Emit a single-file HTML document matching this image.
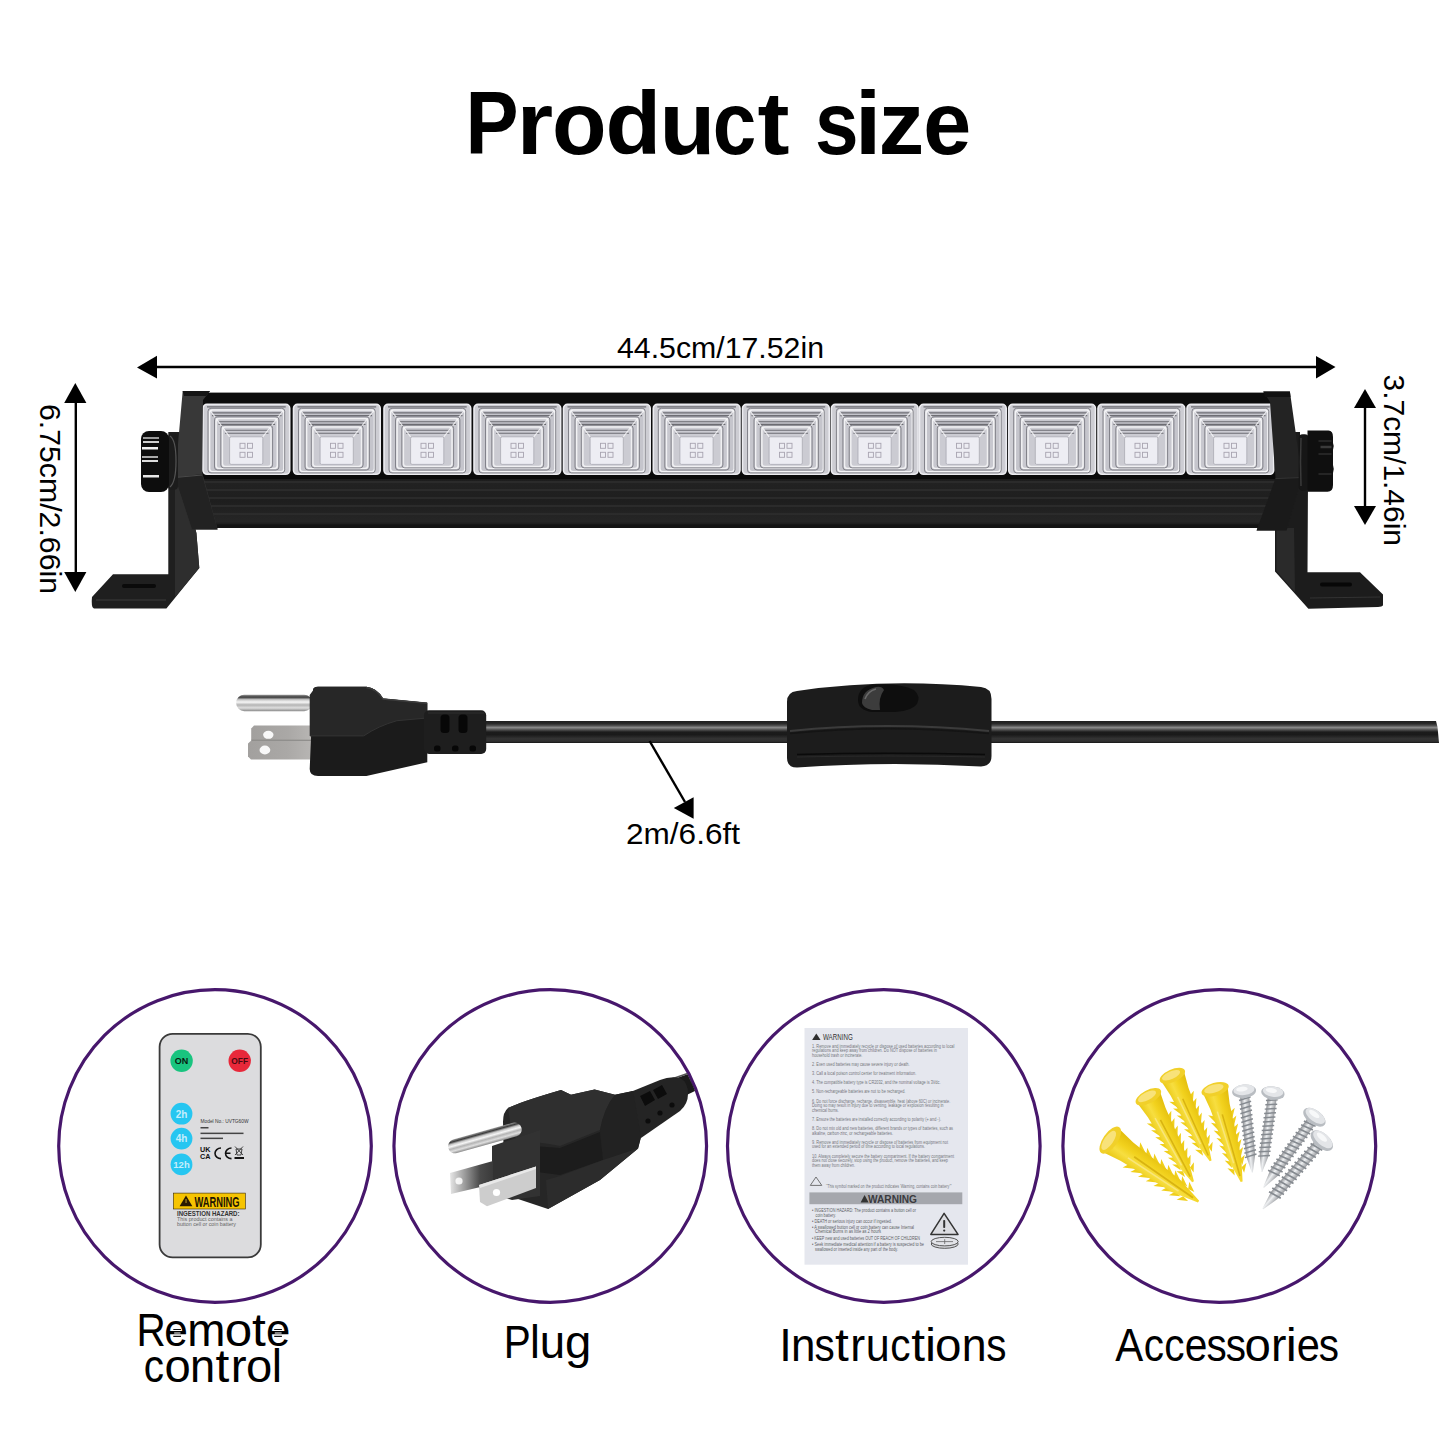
<!DOCTYPE html>
<html><head><meta charset="utf-8"><title>Product size</title>
<style>
html,body{margin:0;padding:0;background:#fff;}
body{width:1445px;height:1445px;overflow:hidden;position:relative;font-family:"Liberation Sans",sans-serif;}
svg{position:absolute;left:0;top:0;display:block;}
svg text{font-family:"Liberation Sans",sans-serif;}
</style></head><body>
<svg width="1445" height="1445" viewBox="0 0 1445 1445">
<defs>
  <linearGradient id="gMod" x1="0" y1="0" x2="0" y2="1">
    <stop offset="0" stop-color="#e2e2e4"/>
    <stop offset="0.5" stop-color="#cfcfd2"/>
    <stop offset="1" stop-color="#dadadd"/>
  </linearGradient>
  <linearGradient id="gBody" x1="0" y1="0" x2="0" y2="1">
    <stop offset="0" stop-color="#0c0c0c"/>
    <stop offset="0.15" stop-color="#222"/>
    <stop offset="0.5" stop-color="#1e1e1e"/>
    <stop offset="0.88" stop-color="#262626"/>
    <stop offset="1" stop-color="#121212"/>
  </linearGradient>
  <linearGradient id="gPin" x1="0" y1="0" x2="0" y2="1">
    <stop offset="0" stop-color="#9a9a9a"/>
    <stop offset="0.15" stop-color="#3a3a3a"/>
    <stop offset="0.3" stop-color="#c8c8c8"/>
    <stop offset="0.45" stop-color="#f6f6f6"/>
    <stop offset="0.62" stop-color="#b4b4b4"/>
    <stop offset="0.8" stop-color="#dedede"/>
    <stop offset="1" stop-color="#8a8a8a"/>
  </linearGradient>
  <linearGradient id="gBlade" x1="0" y1="0" x2="1" y2="0">
    <stop offset="0" stop-color="#a2a09e"/>
    <stop offset="0.6" stop-color="#aaa8a6"/>
    <stop offset="1" stop-color="#b8b6b4"/>
  </linearGradient>
  <linearGradient id="gCord" x1="0" y1="0" x2="0" y2="1">
    <stop offset="0" stop-color="#1e1e1e"/>
    <stop offset="0.12" stop-color="#2a2a2a"/>
    <stop offset="0.2" stop-color="#4a4a4a"/>
    <stop offset="0.3" stop-color="#8a8a8a"/>
    <stop offset="0.38" stop-color="#5a5a5a"/>
    <stop offset="0.5" stop-color="#1c1c1c"/>
    <stop offset="0.62" stop-color="#1a1a1a"/>
    <stop offset="0.8" stop-color="#333"/>
    <stop offset="0.92" stop-color="#303030"/>
    <stop offset="1" stop-color="#151515"/>
  </linearGradient>
  <linearGradient id="gPlug" x1="0" y1="0" x2="0" y2="1">
    <stop offset="0" stop-color="#262626"/>
    <stop offset="0.5" stop-color="#1e1e1e"/>
    <stop offset="1" stop-color="#121212"/>
  </linearGradient>
  <linearGradient id="gBladeA" x1="0" y1="0" x2="1" y2="0">
    <stop offset="0" stop-color="#e6e6e6"/>
    <stop offset="0.35" stop-color="#9a9a9a"/>
    <stop offset="0.7" stop-color="#4a4a4a"/>
    <stop offset="1" stop-color="#3a3a3a"/>
  </linearGradient>
  <linearGradient id="gYel" x1="0" y1="0" x2="1" y2="0">
    <stop offset="0" stop-color="#eac814"/>
    <stop offset="0.35" stop-color="#f7de40"/>
    <stop offset="0.6" stop-color="#f2d21e"/>
    <stop offset="1" stop-color="#e2bc0c"/>
  </linearGradient>
  <linearGradient id="gScrew" x1="0" y1="0" x2="1" y2="0">
    <stop offset="0" stop-color="#8e9094"/>
    <stop offset="0.45" stop-color="#eef0f2"/>
    <stop offset="1" stop-color="#9a9ca0"/>
  </linearGradient>

  <clipPath id="clipC2"><circle cx="550.25" cy="1146" r="155"/></clipPath>
  <!-- LED module, local 0..86.7 x 0..70 -->
  <g id="mod">
    <rect x="0" y="0" width="86.7" height="70" rx="4" fill="#cdcdd3" stroke="#ececf0" stroke-width="1.6"/>
    <g stroke="#6a6a70" stroke-width="1.1" fill="none">
      <path d="M4 2.6 H82.7"/>
    </g>
    <rect x="6.6" y="5.6" width="74.3" height="61.8" rx="3" fill="#c5c5cc" stroke="#f4f4f6" stroke-width="1.5"/>
    <path d="M9 8.6 H78.5 M9 11.3 H78.5" stroke="#6e6e74" stroke-width="1.1"/>
    <rect x="13.1" y="14.1" width="61.2" height="50" rx="3" fill="#c8c8cf" stroke="#f2f2f4" stroke-width="1.5"/>
    <path d="M15.5 17.4 H72 M15.5 20.1 H72" stroke="#6a6a70" stroke-width="1.1"/>
    <rect x="19.4" y="22.7" width="48.6" height="39.4" rx="3" fill="#cbcbd2" stroke="#f0f0f2" stroke-width="1.5"/>
    <path d="M22 26 H65.5 M22 29 H65.5" stroke="#6e6e74" stroke-width="1.1"/>
    <path d="M7.5 6.5 L26.6 32.5 M80 6.5 L59.8 32.5" stroke="#f8f8fa" stroke-width="1.2" opacity="0.8"/>
    <g stroke="#7a7a82" stroke-width="0.9" fill="none">
      <rect x="5" y="4" width="76.7" height="64.6" rx="3"/>
      <rect x="11.5" y="12.5" width="64.4" height="53.2" rx="3"/>
      <rect x="17.8" y="21" width="51.8" height="42.6" rx="3"/>
    </g>
    <rect x="26.6" y="32.5" width="33.2" height="27.6" rx="1.5" fill="#ededf3" stroke="#a9a9b2" stroke-width="0.8"/>
    <g fill="none" stroke="#a7a3b0" stroke-width="0.9">
      <rect x="37" y="39" width="5" height="5"/><rect x="44.5" y="39" width="5" height="5"/>
      <rect x="37" y="48" width="5" height="5"/><rect x="44.5" y="48" width="5" height="5"/>
    </g>
  </g>

  <g id="anchor">
    <path d="M-7.8 30 L-13.8 27 L-8.8 36 Z M7.8 30 L13.8 27 L8.8 36 Z M-7.2 38 L-13.2 35 L-8.2 44 Z M7.2 38 L13.2 35 L8.2 44 Z M-6.7 46 L-12.7 43 L-7.7 52 Z M6.7 46 L12.7 43 L7.7 52 Z M-6.1 54 L-12.1 51 L-7.1 60 Z M6.1 54 L12.1 51 L7.1 60 Z M-5.6 62 L-11.6 59 L-6.6 68 Z M5.6 62 L11.6 59 L6.6 68 Z M-5.0 70 L-11.0 67 L-6.0 76 Z M5.0 70 L11.0 67 L6.0 76 Z M-4.4 78 L-10.4 75 L-5.4 84 Z M4.4 78 L10.4 75 L5.4 84 Z M-3.9 86 L-9.9 83 L-4.9 92 Z M3.9 86 L9.9 83 L4.9 92 Z" fill="#f0cf1c"/>
    <path d="M-12.5 6 Q0 1 12.5 6 L10 22 L6.5 76 L1 100 L-1 100 L-6.5 76 L-10 22 Z" fill="url(#gYel)"/>
    <ellipse cx="0" cy="4" rx="14" ry="6.5" fill="#f1d02a"/>
    <ellipse cx="-1" cy="3" rx="10" ry="4" fill="#f8e27a"/>
    <path d="M0 30 L0 94" stroke="#d9b410" stroke-width="1.6"/>
    <path d="M-4 26 L-2.5 80" stroke="#fae98a" stroke-width="1.5" opacity="0.8"/>
  </g>
  <g id="screw">
    <path d="M-4.8 4 L4.8 4 L4.8 68 L0.5 86 L-0.5 86 L-4.8 68 Z" fill="url(#gScrew)"/>
    <path d="M-6.2 10.0 L6.2 7.5 M-6.2 14.6 L6.2 12.1 M-6.2 19.2 L6.2 16.7 M-6.2 23.8 L6.2 21.3 M-6.2 28.4 L6.2 25.9 M-6.2 33.0 L6.2 30.5 M-6.2 37.6 L6.2 35.1 M-6.2 42.2 L6.2 39.7 M-6.2 46.8 L6.2 44.3 M-6.2 51.4 L6.2 48.9 M-6.2 56.0 L6.2 53.5 M-6.2 60.6 L6.2 58.1 M-6.2 65.2 L6.2 62.7 M-6.2 69.8 L6.2 67.3" stroke="#858a90" stroke-width="1.6"/>
    <ellipse cx="0" cy="1" rx="12.5" ry="7" fill="#b9bdc2"/>
    <ellipse cx="0" cy="-0.5" rx="11" ry="5.5" fill="#e3e5e8"/>
    <ellipse cx="-2" cy="-1.5" rx="6" ry="2.5" fill="#f7f8f9"/>
  </g>

  <!-- knob: local center 0,0 -->
  <g id="knob">
    <rect x="-14" y="-30" width="28" height="61" rx="8" fill="#0d0d0d"/>
    <rect x="-12" y="-24" width="16" height="2" fill="#9a9a9a"/>
    <rect x="-12" y="-20" width="16" height="2" fill="#cfcfcf"/>
    <rect x="-13" y="-14" width="16" height="2.5" fill="#f2f2f2"/>
    <rect x="-13" y="-5" width="16" height="2" fill="#aaa"/>
    <rect x="-13" y="-1" width="16" height="2" fill="#ddd"/>
    <rect x="-12" y="14" width="16" height="2.5" fill="#e8e8e8"/>
  </g>

  <!-- plug (horizontal, as drawn at top) -->
  <g id="plug">
    <rect x="236.2" y="694.7" width="76" height="16.5" rx="8" fill="url(#gPin)"/>
    <path d="M254 725.5 L313 725.5 L313 740 L251.2 740 L251.2 728.5 Z" fill="url(#gBlade)"/>
    <path d="M251 740.7 L313 740.7 L313 759.4 L251 759.4 L248 756.5 L248 743.5 Z" fill="url(#gBlade)"/>
    <path d="M251.2 740.3 L313 740.3" stroke="#7a7876" stroke-width="1"/>
    <ellipse cx="268.3" cy="734.8" rx="5.2" ry="4" fill="#f8f8f8"/>
    <ellipse cx="264.9" cy="750" rx="5.4" ry="4.4" fill="#f8f8f8"/>
    <path d="M313 690.5 Q313 686.8 318 686.8 L366.4 686.8 Q377 688 383 698.5 L427.3 702.7 L427.3 762.2 L366.4 776 L318 776 Q309.7 776 309.7 769 Z" fill="#1b1b1b"/>
    <path d="M313 690.5 Q313 686.8 318 686.8 L366.4 686.8 Q377 688 383 698.5 L427.3 702.7 L427.3 717.9 L396.9 720.7 Q378 726 363.7 735.9 L309.7 735.9 L309.7 695 Z" fill="#272727"/>
    <path d="M366.4 687.5 Q377 689 383 699 L427 703.2" stroke="#3c3c3c" stroke-width="1.4" fill="none"/>
    <path d="M310 735.9 L363.7 735.9 Q378 726 396.9 720.7 L427 718" stroke="#333" stroke-width="1" fill="none"/>
    <rect x="424" y="710.3" width="62.2" height="43.6" rx="5" fill="#1e1e1e"/>
    <path d="M428 713 L484 713" stroke="#2e2e2e" stroke-width="1.2"/>
    <rect x="440.5" y="714.4" width="9" height="18.7" rx="3.5" fill="#070707"/>
    <rect x="458.5" y="714.4" width="9" height="18.7" rx="3.5" fill="#070707"/>
    <rect x="434" y="745.5" width="6.5" height="6" rx="2.5" fill="#070707"/>
    <rect x="452" y="745.5" width="6.5" height="6" rx="2.5" fill="#070707"/>
    <rect x="469.5" y="745.5" width="6.5" height="6" rx="2.5" fill="#070707"/>
  </g>
</defs>

<!-- ===== Title ===== -->
<g>
<text x="465.48" y="154.20" font-size="89" font-weight="bold" fill="#000" textLength="53.04" lengthAdjust="spacingAndGlyphs">P</text>
<text x="516.84" y="154.20" font-size="89" font-weight="bold" fill="#000" textLength="36.38" lengthAdjust="spacingAndGlyphs">r</text>
<text x="551.91" y="154.20" font-size="89" font-weight="bold" fill="#000" textLength="54.58" lengthAdjust="spacingAndGlyphs">o</text>
<text x="605.56" y="154.20" font-size="89" font-weight="bold" fill="#000" textLength="55.64" lengthAdjust="spacingAndGlyphs">d</text>
<text x="659.44" y="154.20" font-size="89" font-weight="bold" fill="#000" textLength="55.78" lengthAdjust="spacingAndGlyphs">u</text>
<text x="712.74" y="154.20" font-size="89" font-weight="bold" fill="#000" textLength="43.56" lengthAdjust="spacingAndGlyphs">c</text>
<text x="757.60" y="154.20" font-size="89" font-weight="bold" fill="#000" textLength="32.01" lengthAdjust="spacingAndGlyphs">t</text>
<text x="815.05" y="154.20" font-size="89" font-weight="bold" fill="#000" textLength="43.56" lengthAdjust="spacingAndGlyphs">s</text>
<text x="854.79" y="154.20" font-size="89" font-weight="bold" fill="#000" textLength="26.71" lengthAdjust="spacingAndGlyphs">i</text>
<text x="878.43" y="154.20" font-size="89" font-weight="bold" fill="#000" textLength="45.77" lengthAdjust="spacingAndGlyphs">z</text>
<text x="923.33" y="154.20" font-size="89" font-weight="bold" fill="#000" textLength="48.02" lengthAdjust="spacingAndGlyphs">e</text>
</g>

<!-- ===== Horizontal dimension ===== -->
<line x1="150" y1="367" x2="1322" y2="367" stroke="#000" stroke-width="2.4"/>
<polygon points="137,367.4 157,355.8 157,378.6" fill="#000"/>
<polygon points="1335.5,367 1316,356 1316,378.5" fill="#000"/>
<text x="617" y="358" font-size="30" fill="#000" textLength="207" lengthAdjust="spacingAndGlyphs">44.5cm/17.52in</text>

<!-- Left vertical dimension -->
<line x1="75.8" y1="395" x2="75.8" y2="580" stroke="#000" stroke-width="2.4"/>
<polygon points="75.3,383 64.2,403 86.4,403" fill="#000"/>
<polygon points="75.3,592 64.2,572 86.4,572" fill="#000"/>
<text transform="translate(40.3,404) rotate(90)" x="0" y="0" font-size="30" fill="#000" textLength="190" lengthAdjust="spacingAndGlyphs">6.75cm/2.66in</text>

<!-- Right vertical dimension -->
<line x1="1365" y1="400" x2="1365" y2="515" stroke="#000" stroke-width="2.4"/>
<polygon points="1365,389 1354,408 1376,408" fill="#000"/>
<polygon points="1365,525 1354,506 1376,506" fill="#000"/>
<text transform="translate(1384.3,374.5) rotate(90)" x="0" y="0" font-size="30" fill="#000" textLength="171.5" lengthAdjust="spacingAndGlyphs">3.7cm/1.46in</text>

<!-- ===== Light bar ===== -->
<!-- left bracket -->
<path d="M168.3 432 L182 432 L182 478 L196.4 533 L199.3 568 L166.4 608.5 L94 608.5 Q91 608 92 597 L113 574.3 L168.3 574.3 Z" fill="#1f1f1f"/>
<path d="M182 478 L196.4 533 L199.3 568 L175 597 L175 478 Z" fill="#2e2e2e"/>
<path d="M96 600 L166 600" stroke="#3d3d3d" stroke-width="1.2"/>
<rect x="122" y="584" width="34" height="4" rx="2" fill="#0a0a0a"/>
<!-- right bracket -->
<path d="M1276 432 L1300 432 L1300 470 L1308 478 L1307.5 572.3 L1360 572.3 L1383 594.6 L1383 605.3 Q1382 607 1378 607 L1308.4 608.7 L1275 571.4 L1275 478 Z" fill="#1c1c1c"/>
<path d="M1276.5 528 L1294 528 L1295 592 L1276.5 571 Z" fill="#2a2a2a"/>
<path d="M1310 598 L1380 597" stroke="#333" stroke-width="1.2"/>
<rect x="1320" y="582.5" width="32" height="4" rx="2" fill="#070707"/>

<!-- body -->
<rect x="200" y="392.6" width="1082" height="83.4" fill="#0c0c0c"/>
<rect x="195" y="474" width="1090" height="54" fill="url(#gBody)"/>
<g stroke="#2f2f2f" stroke-width="1.4">
  <line x1="200" y1="482" x2="1280" y2="482"/>
  <line x1="200" y1="490" x2="1280" y2="490"/>
  <line x1="200" y1="498" x2="1280" y2="498"/>
  <line x1="200" y1="506" x2="1280" y2="506"/>
  <line x1="200" y1="514" x2="1280" y2="514"/>
</g>
<rect x="195" y="474" width="1090" height="5" fill="#0a0a0a"/>
<rect x="195" y="524.5" width="1090" height="3" fill="#141414"/>

<!-- modules -->
<use href="#mod" x="203" y="404.3"/>
<use href="#mod" x="293.5" y="404.3"/>
<use href="#mod" x="384" y="404.3"/>
<use href="#mod" x="474" y="404.3"/>
<use href="#mod" x="563.5" y="404.3"/>
<use href="#mod" x="653.3" y="404.3"/>
<use href="#mod" x="742.5" y="404.3"/>
<use href="#mod" x="831.4" y="404.3"/>
<use href="#mod" x="919.5" y="404.3"/>
<use href="#mod" x="1008.7" y="404.3"/>
<use href="#mod" x="1098" y="404.3"/>
<use href="#mod" x="1187" y="404.3"/>

<!-- left end cap -->
<path d="M182.7 391.1 L210 391.1 L203 400 L202 472 L217.6 529.5 L192 529.5 L175 478 Z" fill="#383838"/>
<path d="M182.7 391.1 L210 391.1 L206 396 L184 396 Z" fill="#151515"/>
<path d="M175 477.5 L202 474 L217.6 529.5 L192 529.5 Z" fill="#222"/>
<path d="M175 477.5 L202 475" stroke="#4a4a4a" stroke-width="1.2"/>
<!-- right end cap -->
<path d="M1263.3 391.6 L1289.9 391.6 L1302 477.5 L1286.5 530.6 L1256.6 530.6 L1275.5 478.6 L1270 402 Z" fill="#232323"/>
<path d="M1263.3 391.6 L1289.9 391.6 L1290.5 397 L1265 397 Z" fill="#111"/>
<path d="M1275.5 478.6 L1302 477.5 L1286.5 530.6 L1256.6 530.6 Z" fill="#1a1a1a"/>
<path d="M1275.5 478.6 L1302 477.5" stroke="#333" stroke-width="1"/>

<!-- knobs -->
<rect x="168" y="433.7" width="10" height="56" rx="4" fill="#1c1c1c"/>
<path d="M170 436 Q176 440 176 461 Q176 482 170 487" stroke="#555" stroke-width="1.2" fill="none"/>
<use href="#knob" x="155" y="461"/>
<rect x="1298.7" y="434.3" width="10" height="56.4" rx="4" fill="#161616"/>
<path d="M1301 438 Q1300 461 1301 486" stroke="#3a3a3a" stroke-width="1.5" fill="none"/>
<g transform="translate(1320.5,461)">
  <path d="M-13 -30.5 L8 -30.5 Q12.5 -30.5 12.5 -24 L12.5 -18 Q14 -15 12.5 -11 L12.5 4 Q14 8 12.5 12 L12.5 24 Q12.5 30.8 7 30.8 L-13 30.8 Z" fill="#0f0f0f"/>
  <path d="M-2 -20 L11 -20 M-2 -7 L11 -7 M-2 13 L11 13" stroke="#2e2e2e" stroke-width="1.6"/>
  <path d="M0 -14 L11 -14" stroke="#3a3a3a" stroke-width="2.5"/>
</g>

<!-- ===== Cord + plug ===== -->
<path d="M480 721 L1436 721 L1437.5 727 L1439 743 L480 743 Z" fill="url(#gCord)"/>
<use href="#plug"/>
<!-- switch -->
<path d="M787 702 Q787 692 797 691 Q886 678 981 687 Q991.5 688 991.5 699 L991.5 756 Q991.5 766 981 766.5 Q886 761 797 767.5 Q787 767.5 787 758 Z" fill="#1c1c1c"/>
<path d="M790 731 Q886 721 989 731" stroke="#3b3b3b" stroke-width="2.2" fill="none"/>
<path d="M790 733.5 Q886 724 989 733.5" stroke="#141414" stroke-width="1.5" fill="none"/>
<path d="M797 754.5 Q886 752 985 754.5" stroke="#0a0a0a" stroke-width="1.6" fill="none"/>
<path d="M797 757 Q886 755 985 757" stroke="#2a2a2a" stroke-width="1.2" fill="none"/>
<path d="M858 700 Q858 686 874 684.5 Q900 683 914 690 Q921 696 917 704 Q910 712 890 712 L872 712 Q858 710 858 700 Z" fill="#0e0e0e"/>
<path d="M862 703 Q862 690 876 687 Q882 686 884 690 Q878 698 880 710 L872 710 Q863 708 862 703 Z" fill="#3c3c3c"/>
<path d="M865 699 Q868 691 876 689" stroke="#6a6a6a" stroke-width="1.6" fill="none"/>

<!-- cable length arrow -->
<line x1="649.6" y1="741" x2="685" y2="802" stroke="#000" stroke-width="2.4"/>
<polygon points="673.8,808 693.6,797.3 693.6,818.7" fill="#000"/>
<text x="626" y="844" font-size="30" fill="#000" textLength="114" lengthAdjust="spacingAndGlyphs">2m/6.6ft</text>

<!-- ===== Circles ===== -->
<g fill="none" stroke="#47176c" stroke-width="3.2">
  <circle cx="215" cy="1146" r="156.3"/>
  <circle cx="550.25" cy="1146" r="156.3"/>
  <circle cx="883.8" cy="1146" r="156.3"/>
  <circle cx="1219.3" cy="1146" r="156.4"/>
</g>

<!-- Remote -->
<g>
  <rect x="159.6" y="1033.8" width="101.2" height="223.6" rx="13" fill="#dcdcde" stroke="#3a3a3a" stroke-width="1.8"/>
  <circle cx="181.6" cy="1060.8" r="11.2" fill="#19c47f"/>
  <text x="181.6" y="1064.2" font-size="9" font-weight="bold" fill="#0a1a10" text-anchor="middle">ON</text>
  <circle cx="239.7" cy="1060.8" r="11.2" fill="#e8283a"/>
  <text x="239.7" y="1064.2" font-size="8.4" font-weight="bold" fill="#4a0a10" text-anchor="middle">OFF</text>
  <circle cx="181.5" cy="1113.7" r="10.9" fill="#26c6f1"/>
  <circle cx="181.5" cy="1138.6" r="10.9" fill="#26c6f1"/>
  <circle cx="181.5" cy="1164.4" r="10.9" fill="#26c6f1"/>
  <text x="181.5" y="1117.5" font-size="10" font-weight="bold" fill="#c4eefc" text-anchor="middle">2h</text>
  <text x="181.5" y="1142.4" font-size="10" font-weight="bold" fill="#c4eefc" text-anchor="middle">4h</text>
  <text x="181.5" y="1168.2" font-size="9.5" font-weight="bold" fill="#c4eefc" text-anchor="middle">12h</text>
  <text x="200.5" y="1123.3" font-size="4.8" fill="#333" textLength="48" lengthAdjust="spacingAndGlyphs">Model No.: UVTG60W</text>
  <rect x="200.5" y="1127" width="8" height="1.5" fill="#444"/>
  <rect x="200.5" y="1132.6" width="43" height="1.5" fill="#444"/>
  <rect x="200.5" y="1137.6" width="22.5" height="1.5" fill="#444"/>
  <text x="200" y="1152.3" font-size="7" font-weight="bold" fill="#111" textLength="10.5" lengthAdjust="spacingAndGlyphs">UK</text>
  <text x="200" y="1158.8" font-size="7" font-weight="bold" fill="#111" textLength="10.5" lengthAdjust="spacingAndGlyphs">CA</text>
  <path d="M221 1148 A6 5.3 0 1 0 221 1158.6" stroke="#111" stroke-width="1.6" fill="none"/>
  <path d="M231.5 1148 A6 5.3 0 1 0 231.5 1158.6 M226 1153.3 L230.5 1153.3" stroke="#111" stroke-width="1.6" fill="none"/>
  <path d="M235 1146.5 L243 1155 M243 1146.5 L235 1155 M236 1149 L242 1149 L241 1155 L237 1155 Z" stroke="#333" stroke-width="0.9" fill="none"/>
  <rect x="234.5" y="1157" width="9.5" height="2" fill="#111"/>
  <rect x="173.4" y="1193.1" width="71.9" height="15.9" fill="#f6c400" stroke="#3a2a00" stroke-width="0.6"/>
  <polygon points="179.6,1206.2 186,1195.6 192.4,1206.2" fill="#2a1a00"/>
  <rect x="185.4" y="1199" width="1.3" height="4" fill="#a08020"/>
  <text x="194.5" y="1206.5" font-size="15" font-weight="bold" fill="#1e1400" textLength="45" lengthAdjust="spacingAndGlyphs">WARNING</text>
  <text x="177" y="1216.1" font-size="7.7" font-weight="bold" fill="#333" textLength="62.5" lengthAdjust="spacingAndGlyphs">INGESTION HAZARD:</text>
  <text x="177" y="1221.3" font-size="5.3" fill="#666" textLength="55.5" lengthAdjust="spacingAndGlyphs">This product contains a</text>
  <text x="177" y="1225.8" font-size="5.3" fill="#666" textLength="59" lengthAdjust="spacingAndGlyphs">button cell or coin battery</text>
</g>

<!-- Plug in circle -->
<g clip-path="url(#clipC2)">
  <!-- cord -->
  <path d="M655 1086 L688 1074 Q694 1076 697 1090 L668 1104 Z" fill="#1a1a1a"/>
  <path d="M660 1083 L689 1073" stroke="#555" stroke-width="1.5"/>
  <!-- strain relief -->
  <path d="M628 1093 L660 1080 Q670 1076 680 1078 Q688 1082 688 1094 Q688 1104 680 1111 L641 1138 L628 1122 Z" fill="#242424"/>
  <path d="M640 1096 L650 1091 L655 1100 L645 1106 Z M653 1090 L662 1085 L667 1094 L658 1099 Z" fill="#0c0c0c"/>
  <circle cx="648" cy="1121" r="2.6" fill="#0c0c0c"/>
  <circle cx="660" cy="1113" r="2.6" fill="#0c0c0c"/>
  <circle cx="672" cy="1105" r="2.6" fill="#0c0c0c"/>
  <!-- body -->
  <path d="M508 1108 Q520 1102 561 1090 L571 1094.7 L594.6 1089.6 L615 1094.7 L633 1091 L641 1137 L638.2 1148.5 L600 1180 L548 1209 L518 1199 Q505 1190 504 1176 L503 1122 Q503 1112 508 1108 Z" fill="#262626"/>
  <path d="M508 1108 Q520 1102 561 1090 L571 1094.7 L594.6 1089.6 L615 1094.7 Q604 1108 600 1130 L560 1146 Q530 1140 520 1142 L512 1134 Z" fill="#2f2f2f"/>
  <path d="M600 1130 Q604 1108 615 1094.7 L633 1091 L641 1137 L638 1148 L603 1162 Z" fill="#222"/>
  <path d="M520 1145 L560 1148 L600 1132 L603 1160 L560 1175 L522 1170 Z" fill="#1c1c1c"/>
  <path d="M548 1209 L600 1180 L638 1148.5 L603 1160 L560 1176 L546 1180 Z" fill="#2c2c2c"/>
  <!-- front face -->
  <path d="M492 1146 L540 1130 L540 1196 L512 1200 L492 1194 Z" fill="#323232"/>
  <!-- blade A (back) -->
  <path d="M450 1173 L493 1161 L493 1184 L451 1194 Z" fill="url(#gBladeA)"/>
  <!-- blade B (front) -->
  <path d="M479 1185 L536 1166.5 L536 1188 L487 1206.3 L480 1202 Z" fill="#cdcdcd"/>
  <path d="M479 1185 L536 1166.5 L536 1169 L480 1188 Z" fill="#e8e8e8"/>
  <circle cx="496.5" cy="1192.5" r="3.6" fill="#fff"/>
  <circle cx="459" cy="1181" r="3.6" fill="#fff" opacity="0.85"/>
  <!-- ground pin -->
  <g transform="translate(448.3,1148.2) rotate(-15.7)">
    <rect x="0" y="-7" width="76" height="14" rx="7" fill="url(#gPin)"/>
  </g>
</g>

<!-- Instructions sheet -->
<g>
  <rect x="804.5" y="1028" width="163.5" height="236.7" fill="#e5e7ee"/>
  <polygon points="812.1,1040.1 816.3,1033.5 820.6,1040.1" fill="#2e2e2e"/>
  <text x="823" y="1040.1" font-size="8.6" fill="#333" textLength="29.7" lengthAdjust="spacingAndGlyphs">WARNING</text>
  <g font-size="4.5" fill="#74767c">
    <text x="812" y="1047.8" textLength="142.4" lengthAdjust="spacingAndGlyphs">1. Remove and immediately recycle or dispose of used batteries according to local</text>
    <text x="812" y="1052.3" textLength="124.9" lengthAdjust="spacingAndGlyphs">regulations and keep away from children. Do NOT dispose of batteries in</text>
    <text x="812" y="1056.6" textLength="50.4" lengthAdjust="spacingAndGlyphs">household trash or incinerate.</text>
    <text x="812" y="1066.0" textLength="97.6" lengthAdjust="spacingAndGlyphs">2. Even used batteries may cause severe injury or death.</text>
    <text x="812" y="1075.0" textLength="104.3" lengthAdjust="spacingAndGlyphs">3. Call a local poison control center for treatment information.</text>
    <text x="812" y="1084.1" textLength="128.5" lengthAdjust="spacingAndGlyphs">4. The compatible battery type is CR2032, and the nominal voltage is 3Vdc.</text>
    <text x="812" y="1093.2" textLength="93.4" lengthAdjust="spacingAndGlyphs">5. Non-rechargeable batteries are not to be recharged.</text>
    <text x="812" y="1102.6" textLength="138.2" lengthAdjust="spacingAndGlyphs">6. Do not force discharge, recharge, disassemble, heat (above 60C) or incinerate.</text>
    <text x="812" y="1107.1" textLength="131.5" lengthAdjust="spacingAndGlyphs">Doing so may result in injury due to venting, leakage or explosion resulting in</text>
    <text x="812" y="1111.6" textLength="26.8" lengthAdjust="spacingAndGlyphs">chemical burns.</text>
    <text x="812" y="1120.8" textLength="129.0" lengthAdjust="spacingAndGlyphs">7. Ensure the batteries are installed correctly according to polarity (+ and -).</text>
    <text x="812" y="1130.3" textLength="141.0" lengthAdjust="spacingAndGlyphs">8. Do not mix old and new batteries, different brands or types of batteries, such as</text>
    <text x="812" y="1134.6" textLength="81.0" lengthAdjust="spacingAndGlyphs">alkaline, carbon-zinc, or rechargeable batteries.</text>
    <text x="812" y="1143.9" textLength="136.0" lengthAdjust="spacingAndGlyphs">9. Remove and immediately recycle or dispose of batteries from equipment not</text>
    <text x="812" y="1148.2" textLength="113.0" lengthAdjust="spacingAndGlyphs">used for an extended period of time according to local regulations.</text>
    <text x="812" y="1157.7" textLength="142.0" lengthAdjust="spacingAndGlyphs">10. Always completely secure the battery compartment. If the battery compartment</text>
    <text x="812" y="1162.1" textLength="136.0" lengthAdjust="spacingAndGlyphs">does not close securely, stop using the product, remove the batteries, and keep</text>
    <text x="812" y="1166.6" textLength="43.0" lengthAdjust="spacingAndGlyphs">them away from children.</text>
    <text x="826" y="1187.6" textLength="125.4" lengthAdjust="spacingAndGlyphs">“This symbol marked on the product indicates ‘Warning, contains coin battery’”</text>
  </g>
  <polygon points="816,1185.4 810.3,1185.4 816,1177 821.8,1185.4 816,1185.4" fill="none" stroke="#555" stroke-width="0.8"/>
  <rect x="809.4" y="1192.4" width="152.9" height="11.8" fill="#a5a7ad"/>
  <polygon points="860.6,1202.5 864.6,1195 868.6,1202.5" fill="#333"/>
  <text x="868" y="1202.5" font-size="10.5" font-weight="bold" fill="#3a3a3e" textLength="49" lengthAdjust="spacingAndGlyphs">WARNING</text>
  <g font-size="4.9" fill="#5c5e64">
    <text x="812" y="1211.9" textLength="104.0" lengthAdjust="spacingAndGlyphs">• INGESTION HAZARD: The product contains a button cell or</text>
    <text x="815.5" y="1216.6" textLength="20.5" lengthAdjust="spacingAndGlyphs">coin battery.</text>
    <text x="812" y="1222.8" textLength="80.0" lengthAdjust="spacingAndGlyphs">• DEATH or serious injury can occur if ingested.</text>
    <text x="812" y="1228.9" textLength="102.0" lengthAdjust="spacingAndGlyphs">• A swallowed button cell or coin battery can cause Internal</text>
    <text x="815" y="1233.3" textLength="66.0" lengthAdjust="spacingAndGlyphs">Chemical Burns in as little as 2 hours</text>
    <text x="812" y="1239.8" textLength="108.0" lengthAdjust="spacingAndGlyphs">• KEEP new and used batteries OUT OF REACH OF CHILDREN</text>
    <text x="812" y="1245.8" textLength="112.0" lengthAdjust="spacingAndGlyphs">• Seek immediate medical attention if a battery is suspected to be</text>
    <text x="815" y="1251.3" textLength="83.0" lengthAdjust="spacingAndGlyphs">swallowed or inserted inside any part of the body.</text>
  </g>
  <polygon points="944.1,1213.3 930.8,1234.4 958,1234.4" fill="#dcdde2" stroke="#333" stroke-width="1.5" stroke-linejoin="round"/>
  <rect x="943.2" y="1220" width="2" height="8" rx="0.8" fill="#333"/>
  <circle cx="944.2" cy="1230.6" r="1.1" fill="#333"/>
  <ellipse cx="944.7" cy="1244" rx="13.5" ry="4.3" fill="#d8d9de" stroke="#555" stroke-width="1"/>
  <ellipse cx="944.7" cy="1241.6" rx="13.5" ry="4.3" fill="#e2e3e8" stroke="#555" stroke-width="1"/>
  <path d="M936 1241.6 L953 1241.6 M944.7 1239.2 L944.7 1244" stroke="#666" stroke-width="0.8"/>
</g>

<!-- Accessories: anchors and screws -->
<use href="#anchor" transform="translate(1106.6,1137.5) rotate(-55.1) scale(1.121)"/>
<use href="#anchor" transform="translate(1146.5,1093.2) rotate(-27.7) scale(1.001)"/>
<use href="#anchor" transform="translate(1170.8,1072.2) rotate(-24.2) scale(0.972)"/>
<use href="#anchor" transform="translate(1214.0,1085.5) rotate(-16.0) scale(1.002)"/>
<use href="#screw" transform="translate(1244.0,1090.3) rotate(-5.8) scale(0.961)"/>
<use href="#screw" transform="translate(1273.0,1092.1) rotate(8.0) scale(0.938)"/>
<use href="#screw" transform="translate(1315.0,1116.4) rotate(35.9) scale(1.020)"/>
<use href="#screw" transform="translate(1322.5,1139.8) rotate(40.8) scale(1.063)"/>

<!-- ===== Labels ===== -->
<g>
<text x="136.51" y="1345.60" font-size="46" fill="#000" textLength="29.23" lengthAdjust="spacingAndGlyphs">R</text>
<text x="164.20" y="1345.60" font-size="46" fill="#000" textLength="23.59" lengthAdjust="spacingAndGlyphs">e</text>
<text x="187.36" y="1345.60" font-size="46" fill="#000" textLength="38.16" lengthAdjust="spacingAndGlyphs">m</text>
<text x="224.83" y="1345.60" font-size="46" fill="#000" textLength="27.44" lengthAdjust="spacingAndGlyphs">o</text>
<text x="251.95" y="1345.60" font-size="46" fill="#000" textLength="13.80" lengthAdjust="spacingAndGlyphs">t</text>
<text x="266.04" y="1345.60" font-size="46" fill="#000" textLength="24.30" lengthAdjust="spacingAndGlyphs">e</text>
<text x="143.80" y="1381.50" font-size="46" fill="#000" textLength="20.24" lengthAdjust="spacingAndGlyphs">c</text>
<text x="164.52" y="1381.50" font-size="46" fill="#000" textLength="26.27" lengthAdjust="spacingAndGlyphs">o</text>
<text x="189.90" y="1381.50" font-size="46" fill="#000" textLength="25.14" lengthAdjust="spacingAndGlyphs">n</text>
<text x="215.45" y="1381.50" font-size="46" fill="#000" textLength="13.80" lengthAdjust="spacingAndGlyphs">t</text>
<text x="230.84" y="1381.50" font-size="46" fill="#000" textLength="15.85" lengthAdjust="spacingAndGlyphs">r</text>
<text x="246.02" y="1381.50" font-size="46" fill="#000" textLength="26.27" lengthAdjust="spacingAndGlyphs">o</text>
<text x="271.86" y="1381.50" font-size="46" fill="#000" textLength="10.36" lengthAdjust="spacingAndGlyphs">l</text>
<text x="503.71" y="1358.00" font-size="46" fill="#000" textLength="27.00" lengthAdjust="spacingAndGlyphs">P</text>
<text x="530.01" y="1358.00" font-size="46" fill="#000" textLength="9.86" lengthAdjust="spacingAndGlyphs">l</text>
<text x="539.63" y="1358.00" font-size="46" fill="#000" textLength="25.40" lengthAdjust="spacingAndGlyphs">u</text>
<text x="564.91" y="1358.00" font-size="46" fill="#000" textLength="26.34" lengthAdjust="spacingAndGlyphs">g</text>
<text x="779.24" y="1360.70" font-size="46" fill="#000" textLength="12.51" lengthAdjust="spacingAndGlyphs">I</text>
<text x="790.88" y="1360.70" font-size="46" fill="#000" textLength="24.48" lengthAdjust="spacingAndGlyphs">n</text>
<text x="814.60" y="1360.70" font-size="46" fill="#000" textLength="20.24" lengthAdjust="spacingAndGlyphs">s</text>
<text x="835.05" y="1360.70" font-size="46" fill="#000" textLength="13.80" lengthAdjust="spacingAndGlyphs">t</text>
<text x="850.23" y="1360.70" font-size="46" fill="#000" textLength="14.92" lengthAdjust="spacingAndGlyphs">r</text>
<text x="865.70" y="1360.70" font-size="46" fill="#000" textLength="23.96" lengthAdjust="spacingAndGlyphs">u</text>
<text x="890.15" y="1360.70" font-size="46" fill="#000" textLength="20.24" lengthAdjust="spacingAndGlyphs">c</text>
<text x="911.20" y="1360.70" font-size="46" fill="#000" textLength="13.80" lengthAdjust="spacingAndGlyphs">t</text>
<text x="925.14" y="1360.70" font-size="46" fill="#000" textLength="11.04" lengthAdjust="spacingAndGlyphs">i</text>
<text x="934.90" y="1360.70" font-size="46" fill="#000" textLength="26.50" lengthAdjust="spacingAndGlyphs">o</text>
<text x="961.63" y="1360.70" font-size="46" fill="#000" textLength="24.87" lengthAdjust="spacingAndGlyphs">n</text>
<text x="986.20" y="1360.70" font-size="46" fill="#000" textLength="20.24" lengthAdjust="spacingAndGlyphs">s</text>
<text x="1115.32" y="1360.70" font-size="46" fill="#000" textLength="27.96" lengthAdjust="spacingAndGlyphs">A</text>
<text x="1143.75" y="1360.70" font-size="46" fill="#000" textLength="20.24" lengthAdjust="spacingAndGlyphs">c</text>
<text x="1164.35" y="1360.70" font-size="46" fill="#000" textLength="20.24" lengthAdjust="spacingAndGlyphs">c</text>
<text x="1184.67" y="1360.70" font-size="46" fill="#000" textLength="22.64" lengthAdjust="spacingAndGlyphs">e</text>
<text x="1206.60" y="1360.70" font-size="46" fill="#000" textLength="20.24" lengthAdjust="spacingAndGlyphs">s</text>
<text x="1225.65" y="1360.70" font-size="46" fill="#000" textLength="20.24" lengthAdjust="spacingAndGlyphs">s</text>
<text x="1244.61" y="1360.70" font-size="46" fill="#000" textLength="26.38" lengthAdjust="spacingAndGlyphs">o</text>
<text x="1270.92" y="1360.70" font-size="46" fill="#000" textLength="15.45" lengthAdjust="spacingAndGlyphs">r</text>
<text x="1285.69" y="1360.70" font-size="46" fill="#000" textLength="11.04" lengthAdjust="spacingAndGlyphs">i</text>
<text x="1296.73" y="1360.70" font-size="46" fill="#000" textLength="23.11" lengthAdjust="spacingAndGlyphs">e</text>
<text x="1318.65" y="1360.70" font-size="46" fill="#000" textLength="20.24" lengthAdjust="spacingAndGlyphs">s</text>
<path d="M173.3 1329.5 H181 M173.3 1336.4 H181 M274.2 1329.5 H281.9 M274.2 1336.4 H281.9" stroke="#111" stroke-width="1.2"/>
<path d="M174.2 1333 H180.5 M274.8 1333 H281.6" stroke="#fff" stroke-width="1.1"/>
</g>
</svg>
</body></html>
